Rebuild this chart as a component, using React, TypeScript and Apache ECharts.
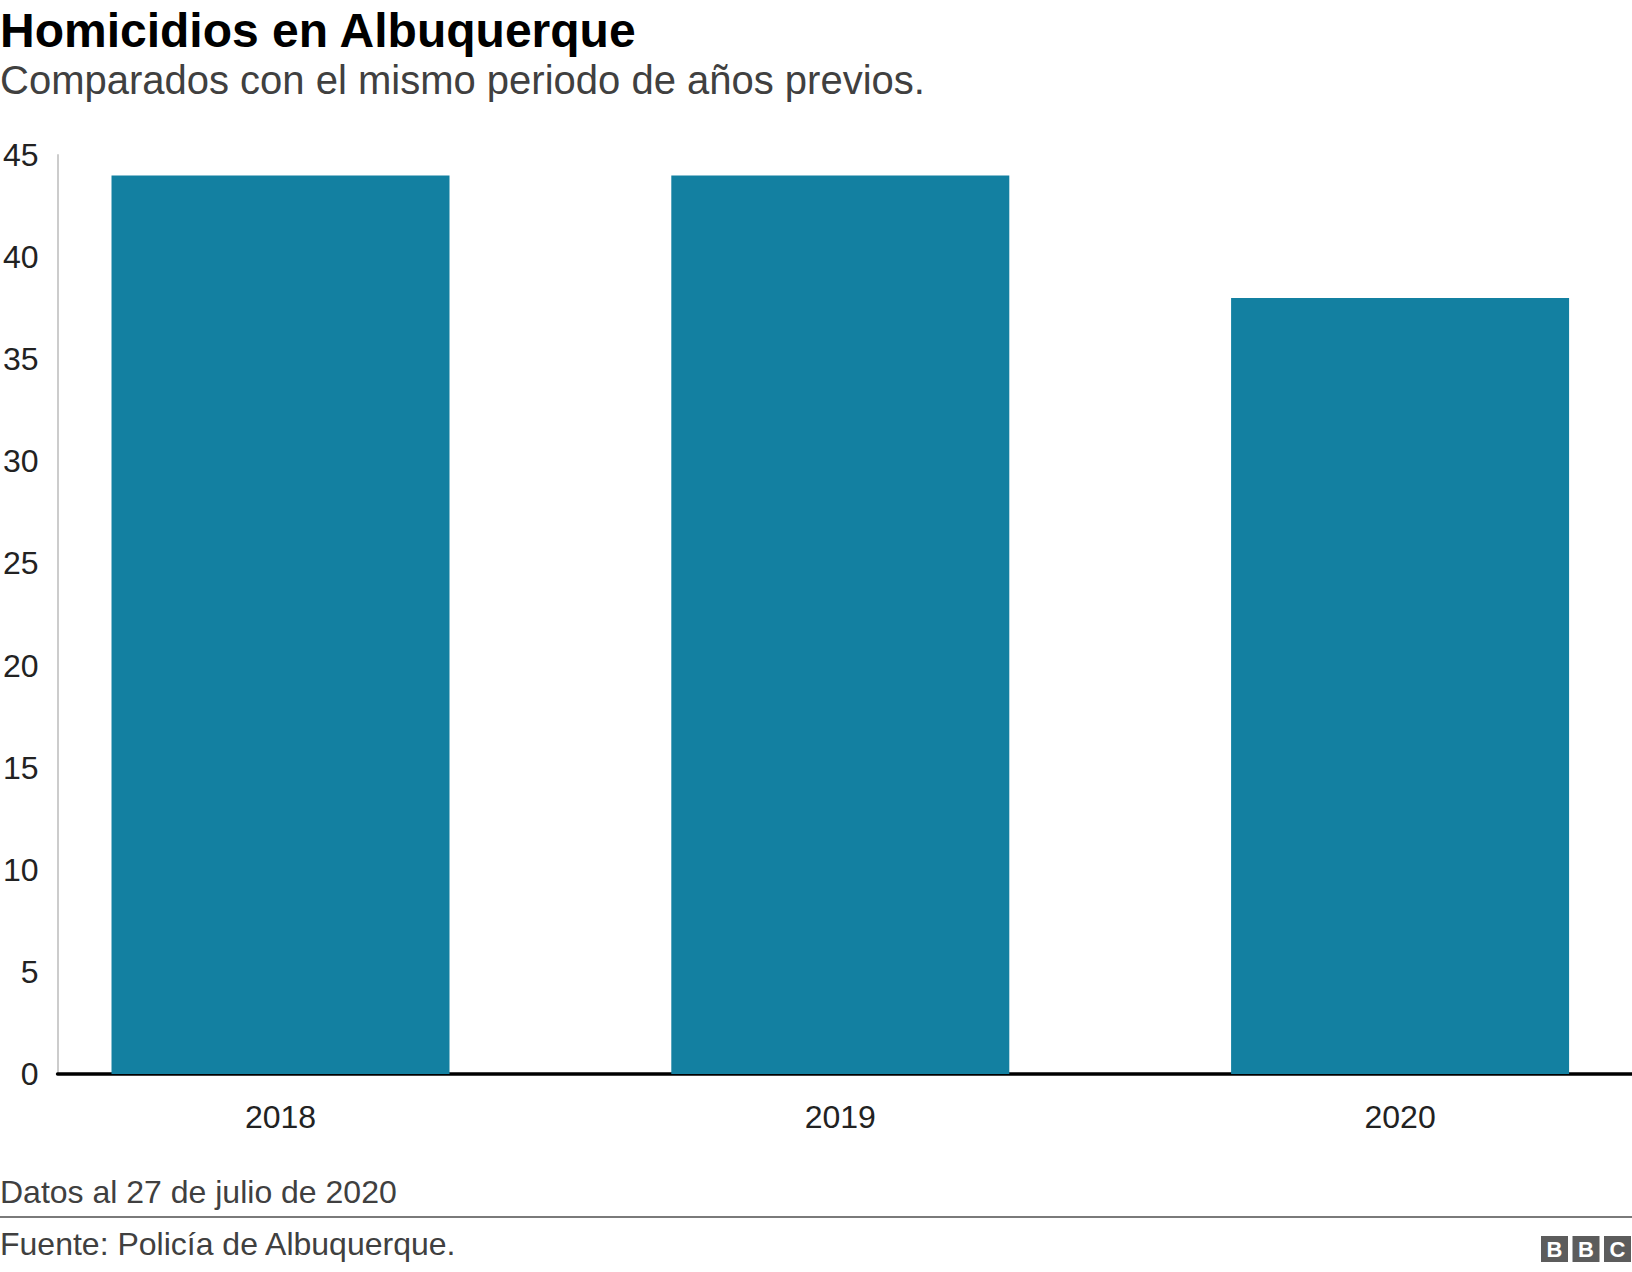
import React, { useEffect, useRef } from "react";
import * as echarts from "echarts";

const categories = ["2018", "2019", "2020"];
const values = [44, 44, 38];
const yTicks = [0, 5, 10, 15, 20, 25, 30, 35, 40, 45];

const titleText = "Homicidios en Albuquerque";
const subtitleText = "Comparados con el mismo periodo de años previos.";
const noteText = "Datos al 27 de julio de 2020";
const sourceText = "Fuente: Policía de Albuquerque.";

const W = 1632;
const H = 1272;
const FONT = "'Liberation Sans', Arial, Helvetica, sans-serif";

export default function App() {
  const ref = useRef<HTMLDivElement>(null);

  useEffect(() => {
    document.body.style.margin = "0";
    if (!ref.current) return;
    const chart = echarts.init(ref.current, undefined, { renderer: "svg" });

    const gridLeft = 57;
    const gridTop = 155;
    const gridBottom = 198;
    const band = 560;
    const firstCenter = 280;
    const xMin = -(firstCenter - gridLeft) / band;
    const xMax = xMin + (W - gridLeft) / band;

    const logoX = 1541;
    const logoY = 1236;
    const box = 27;
    const gap = 4.5;
    const logoLetters = ["B", "B", "C"];

    const option: any = {
      animation: false,
      backgroundColor: "#ffffff",
      textStyle: { fontFamily: FONT },
      grid: { left: gridLeft, right: 0, top: gridTop, bottom: gridBottom, containLabel: false },
      xAxis: {
        type: "value",
        min: xMin,
        max: xMax,
        axisLine: { show: true, onZero: false, lineStyle: { color: "#000000", width: 3.5 } },
        axisTick: { show: false },
        splitLine: { show: false },
        axisLabel: {
          show: true,
          customValues: categories.map((_, i) => i),
          formatter: (v: number) => categories[Math.round(v)] ?? "",
          color: "#222222",
          fontSize: 32,
          fontFamily: FONT,
          margin: 27,
        },
      },
      yAxis: {
        type: "value",
        min: yTicks[0],
        max: yTicks[yTicks.length - 1],
        interval: 5,
        axisLine: { show: true, onZero: false, lineStyle: { color: "#cccccc", width: 2 } },
        axisTick: { show: false },
        splitLine: { show: false },
        axisLabel: {
          color: "#222222",
          fontSize: 32,
          fontFamily: FONT,
          margin: 19,
          padding: [0, 0, 4, 0],
        },
      },
      series: [
        {
          type: "bar",
          data: values.map((v, i) => [i, v]),
          barWidth: 338,
          itemStyle: { color: "#1380A1" },
          z: 1,
        },
      ],
      graphic: [
        {
          type: "text",
          left: 0,
          top: 6,
          style: { text: titleText, fill: "#000000", font: `bold 48px ${FONT}` },
        },
        {
          type: "text",
          left: 0,
          top: 60,
          style: { text: subtitleText, fill: "#404040", font: `40px ${FONT}` },
        },
        {
          type: "text",
          left: 0,
          top: 1176,
          style: { text: noteText, fill: "#404040", font: `32px ${FONT}` },
        },
        {
          type: "line",
          shape: { x1: 0, y1: 1217, x2: W, y2: 1217 },
          style: { stroke: "#7a7a7a", lineWidth: 2 },
        },
        {
          type: "text",
          left: 0,
          top: 1228,
          style: { text: sourceText, fill: "#404040", font: `32px ${FONT}` },
        },
        ...logoLetters.flatMap((ch, i) => [
          {
            type: "rect",
            shape: { x: logoX + i * (box + gap), y: logoY, width: box, height: box - 1 },
            style: { fill: "#5c5c5c" },
          },
          {
            type: "text",
            x: logoX + i * (box + gap) + box / 2,
            y: logoY + box / 2,
            style: {
              text: ch,
              fill: "#ffffff",
              font: `bold 22px ${FONT}`,
              align: "center",
              verticalAlign: "middle",
            },
          },
        ]),
      ],
    };

    chart.setOption(option);
    return () => chart.dispose();
  }, []);

  return <div ref={ref} style={{ width: W, height: H }} />;
}
